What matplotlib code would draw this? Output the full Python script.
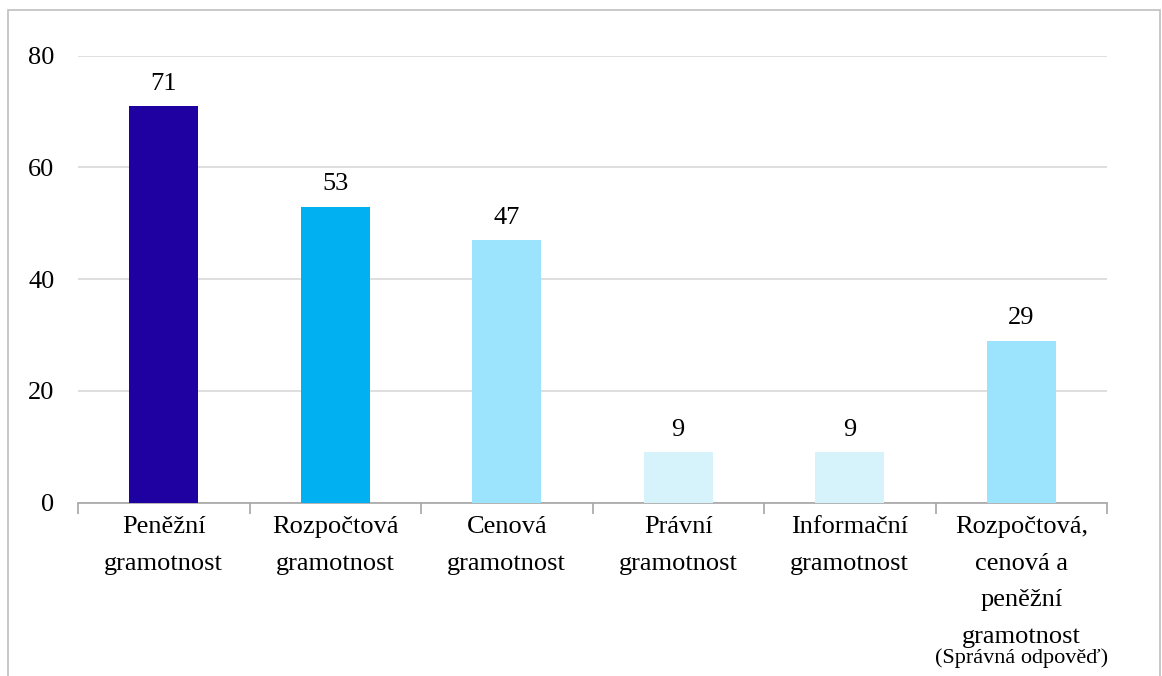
import matplotlib.pyplot as plt
from matplotlib.patches import Rectangle
from matplotlib.transforms import blended_transform_factory

categories = ['Peněžní\ngramotnost', 'Rozpočtová\ngramotnost', 'Cenová\ngramotnost',
              'Právní\ngramotnost', 'Informační\ngramotnost',
              'Rozpočtová,\ncenová a\npeněžní\ngramotnost']
values = [71, 53, 47, 9, 9, 29]
colors = ['#1F00A0', '#00B0F0', '#9CE3FD', '#D6F3FC', '#D6F3FC', '#9CE3FD']
note = '(Správná odpověď)'

plt.rcParams['font.family'] = ['Liberation Serif', 'DejaVu Serif']

fig = plt.figure(figsize=(11.62, 6.76), dpi=100)
# outer chart border
fig.patches.append(Rectangle((8 / 1162, -0.05), 1152 / 1162, 1 - 10 / 676 + 0.05,
                             transform=fig.transFigure, fill=False,
                             edgecolor='#BFBFBF', linewidth=1.2))
ax = fig.add_axes([78 / 1162, 1 - 502.6 / 676, (1107 - 78) / 1162, (502.6 - 55.7) / 676])

x = list(range(len(values)))
ax.bar(x, values, width=0.4, color=colors, zorder=3)
for xi, v in zip(x, values):
    ax.annotate(str(v), (xi, v), xytext=(0, 8), textcoords='offset points',
                ha='center', va='bottom', fontsize=19, color='#000000')

ax.set_xlim(-0.5, len(values) - 0.5)
ax.set_ylim(0, 80)
ax.set_yticks([0, 20, 40, 60, 80])
ax.yaxis.grid(True, color='#D9D9D9', linewidth=1.2, zorder=0)
ax.tick_params(axis='y', length=0, labelsize=19, pad=17)

ax.set_xticks(x)
ax.set_xticklabels(categories, fontsize=19, linespacing=1.85)
ax.tick_params(axis='x', which='major', length=0, pad=10)
ax.set_xticks([i - 0.5 for i in range(len(values) + 1)], minor=True)
ax.tick_params(axis='x', which='minor', length=8, color='#A6A6A6', width=1.2)

for s in ['top', 'right', 'left']:
    ax.spines[s].set_visible(False)
ax.spines['bottom'].set_color('#A6A6A6')
ax.spines['bottom'].set_linewidth(1.2)

trans = blended_transform_factory(ax.transData, fig.transFigure)
ax.text(x[-1], 1 - 658 / 676, note, transform=trans, ha='center', va='center',
        fontsize=16)

fig.savefig('out.png', dpi=100)
